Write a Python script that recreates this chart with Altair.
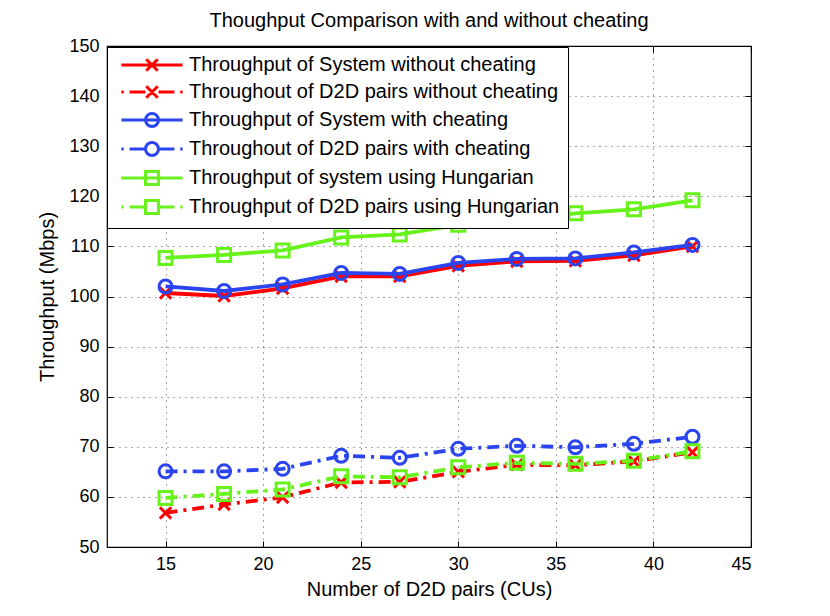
import altair as alt
import pandas as pd

x_vals = [15, 18, 21, 24, 27, 30, 33, 36, 39, 42]

series_names = [
    "Throughput of System without cheating",
    "Throughout of D2D pairs without cheating",
    "Throughput of System with cheating",
    "Throughout of D2D pairs with cheating",
    "Throughput of system using Hungarian",
    "Throughput of D2D pairs using Hungarian",
]

sys_nocheat = [100.7, 100.1, 101.6, 104.0, 104.0, 106.1, 107.0, 107.1, 108.2, 110.0]
d2d_nocheat = [56.8, 58.5, 59.9, 62.9, 63.0, 65.0, 66.4, 66.3, 67.1, 68.9]
sys_cheat = [102.0, 101.1, 102.4, 104.7, 104.5, 106.7, 107.5, 107.6, 108.8, 110.3]
d2d_cheat = [65.1, 65.1, 65.6, 68.2, 67.8, 69.6, 70.2, 69.9, 70.6, 72.0]
sys_hung = [107.7, 108.3, 109.2, 111.8, 112.4, 114.3, 115.1, 116.6, 117.4, 119.2]
d2d_hung = [59.8, 60.6, 61.5, 64.1, 63.9, 65.9, 66.8, 66.6, 67.2, 69.1]

series_values = [sys_nocheat, d2d_nocheat, sys_cheat, d2d_cheat, sys_hung, d2d_hung]

colors = ["#ff0000", "#ff0000", "#2a45f0", "#2a45f0", "#66f21a", "#66f21a"]
dashed = [False, True, False, True, False, True]

CROSS = "M-1,-1L1,1M-1,1L1,-1"
markers = [CROSS, CROSS, "circle", "circle", "square", "square"]
marker_sizes = [130, 130, 169, 169, 169, 169]

x_ticks = [15, 20, 25, 30, 35, 40, 45]
y_ticks = [50, 60, 70, 80, 90, 100, 110, 120, 130, 140, 150]

FONT = "Liberation Sans"

rows = []
for name, vals in zip(series_names, series_values):
    for xv, yv in zip(x_vals, vals):
        rows.append({"pairs": xv, "throughput": yv, "series": name})
df = pd.DataFrame(rows)

# legend sample glyphs (line + marker) in symbol units
m_cross = "M-0.85,-0.85L0.85,0.85M-0.85,0.85L0.85,-0.85"
m_circle = "M0.95,0A0.95,0.95 0 1 1 -0.95,0A0.95,0.95 0 1 1 0.95,0"
m_square = "M-0.95,-0.95H0.95V0.95H-0.95Z"
solid_line = "M-4.5,0H4.5"
dash_line = "M-4.5,0H-4.15M-3.3,0H-0.95M0.95,0H3.3M4.15,0H4.5"
legend_paths = [
    solid_line + m_cross,
    dash_line + m_cross,
    solid_line + m_circle,
    dash_line + m_circle,
    solid_line + m_square,
    dash_line + m_square,
]

legend = alt.Legend(
    orient="none",
    legendX=0,
    legendY=1,
    title=None,
    labelFont=FONT,
    labelFontSize=20,
    labelColor="black",
    labelLimit=600,
    symbolSize=185,
    symbolStrokeWidth=3,
    symbolFillColor="transparent",
    symbolOpacity=1,
    symbolOffset=27,
    labelOffset=27,
    padding=8,
    rowPadding=3,
    strokeColor="black",
    fillColor="white",
)

color_scale = alt.Scale(domain=series_names, range=colors)
x_scale = alt.Scale(domain=[12, 45], nice=False, zero=False)
y_scale = alt.Scale(domain=[50, 150], nice=False, zero=False)

TICK = 6


def tick_axis(orient, values):
    return alt.Axis(
        orient=orient, values=values, offset=-TICK, ticks=True, tickSize=TICK,
        tickColor="black", tickWidth=1, labels=False, domain=False, grid=False, title=None,
    )


base = alt.Chart(df)
empty = base.transform_filter("datum.pairs < 0")

# legend + main axes layer (draws no marks)
legend_layer = empty.mark_point(filled=False, strokeWidth=3, opacity=1).encode(
    x=alt.X("pairs:Q", scale=x_scale,
            axis=alt.Axis(values=x_ticks, title="Number of D2D pairs (CUs)", orient="bottom")),
    y=alt.Y("throughput:Q", scale=y_scale,
            axis=alt.Axis(values=y_ticks, title="Throughput (Mbps)", orient="left")),
    color=alt.Color("series:N", scale=color_scale, sort=series_names, legend=legend),
    shape=alt.Shape(
        "series:N",
        scale=alt.Scale(domain=series_names, range=legend_paths),
        sort=series_names,
        legend=legend,
    ),
)

# inward tick marks (MATLAB style), bottom/left and top/right
ticks_bl = empty.mark_point(opacity=0).encode(
    x=alt.X("pairs:Q", scale=x_scale, axis=tick_axis("bottom", x_ticks)),
    y=alt.Y("throughput:Q", scale=y_scale, axis=tick_axis("left", y_ticks)),
)
ticks_tr = empty.mark_point(opacity=0).encode(
    x=alt.X("pairs:Q", scale=x_scale, axis=tick_axis("top", x_ticks)),
    y=alt.Y("throughput:Q", scale=y_scale, axis=tick_axis("right", y_ticks)),
)

layers = [legend_layer, ticks_bl, ticks_tr]
for name, dsh, shp, msz in zip(series_names, dashed, markers, marker_sizes):
    x_enc = alt.X("pairs:Q", scale=x_scale, axis=None)
    y_enc = alt.Y("throughput:Q", scale=y_scale, axis=None)
    color_enc = alt.Color("series:N", scale=color_scale, legend=None)
    line_kw = dict(strokeWidth=3.8)
    if dsh:
        line_kw["strokeDash"] = [12, 6, 3, 6]
    sub = base.transform_filter(alt.datum.series == name)
    line = sub.mark_line(**line_kw).encode(x=x_enc, y=y_enc, color=color_enc)
    pts = sub.mark_point(
        shape=shp, size=msz, filled=False, strokeWidth=3, opacity=1
    ).encode(x=x_enc, y=y_enc, color=color_enc)
    layers += [line, pts]

chart = alt.layer(*layers).resolve_axis(
    x="independent", y="independent"
).properties(
    width=644,
    height=501,
    autosize=alt.AutoSizeParams(type="none"),
    padding={"left": 99, "top": 38, "right": 71, "bottom": 61},
    title=alt.Title(
        "Thoughput Comparison with and without cheating",
        font=FONT,
        fontSize=20,
        fontWeight="normal",
        color="black",
        anchor="middle",
        offset=6,
    ),
).configure(
    background="white"
).configure_view(
    stroke="black", strokeWidth=1.2
).configure_axis(
    labelFont=FONT,
    labelFontSize=18,
    labelColor="black",
    titleFont=FONT,
    titleFontSize=20,
    titleFontWeight="normal",
    titleColor="black",
    domain=False,
    ticks=False,
    labelPadding=8,
    grid=True,
    gridColor="black",
    gridDash=[1, 5],
    gridOpacity=0.7,
    gridWidth=1,
).configure_axisX(
    titlePadding=6
).configure_axisY(
    titlePadding=11
)

chart.save("out.html", embed_options={"renderer": "svg", "actions": False})
